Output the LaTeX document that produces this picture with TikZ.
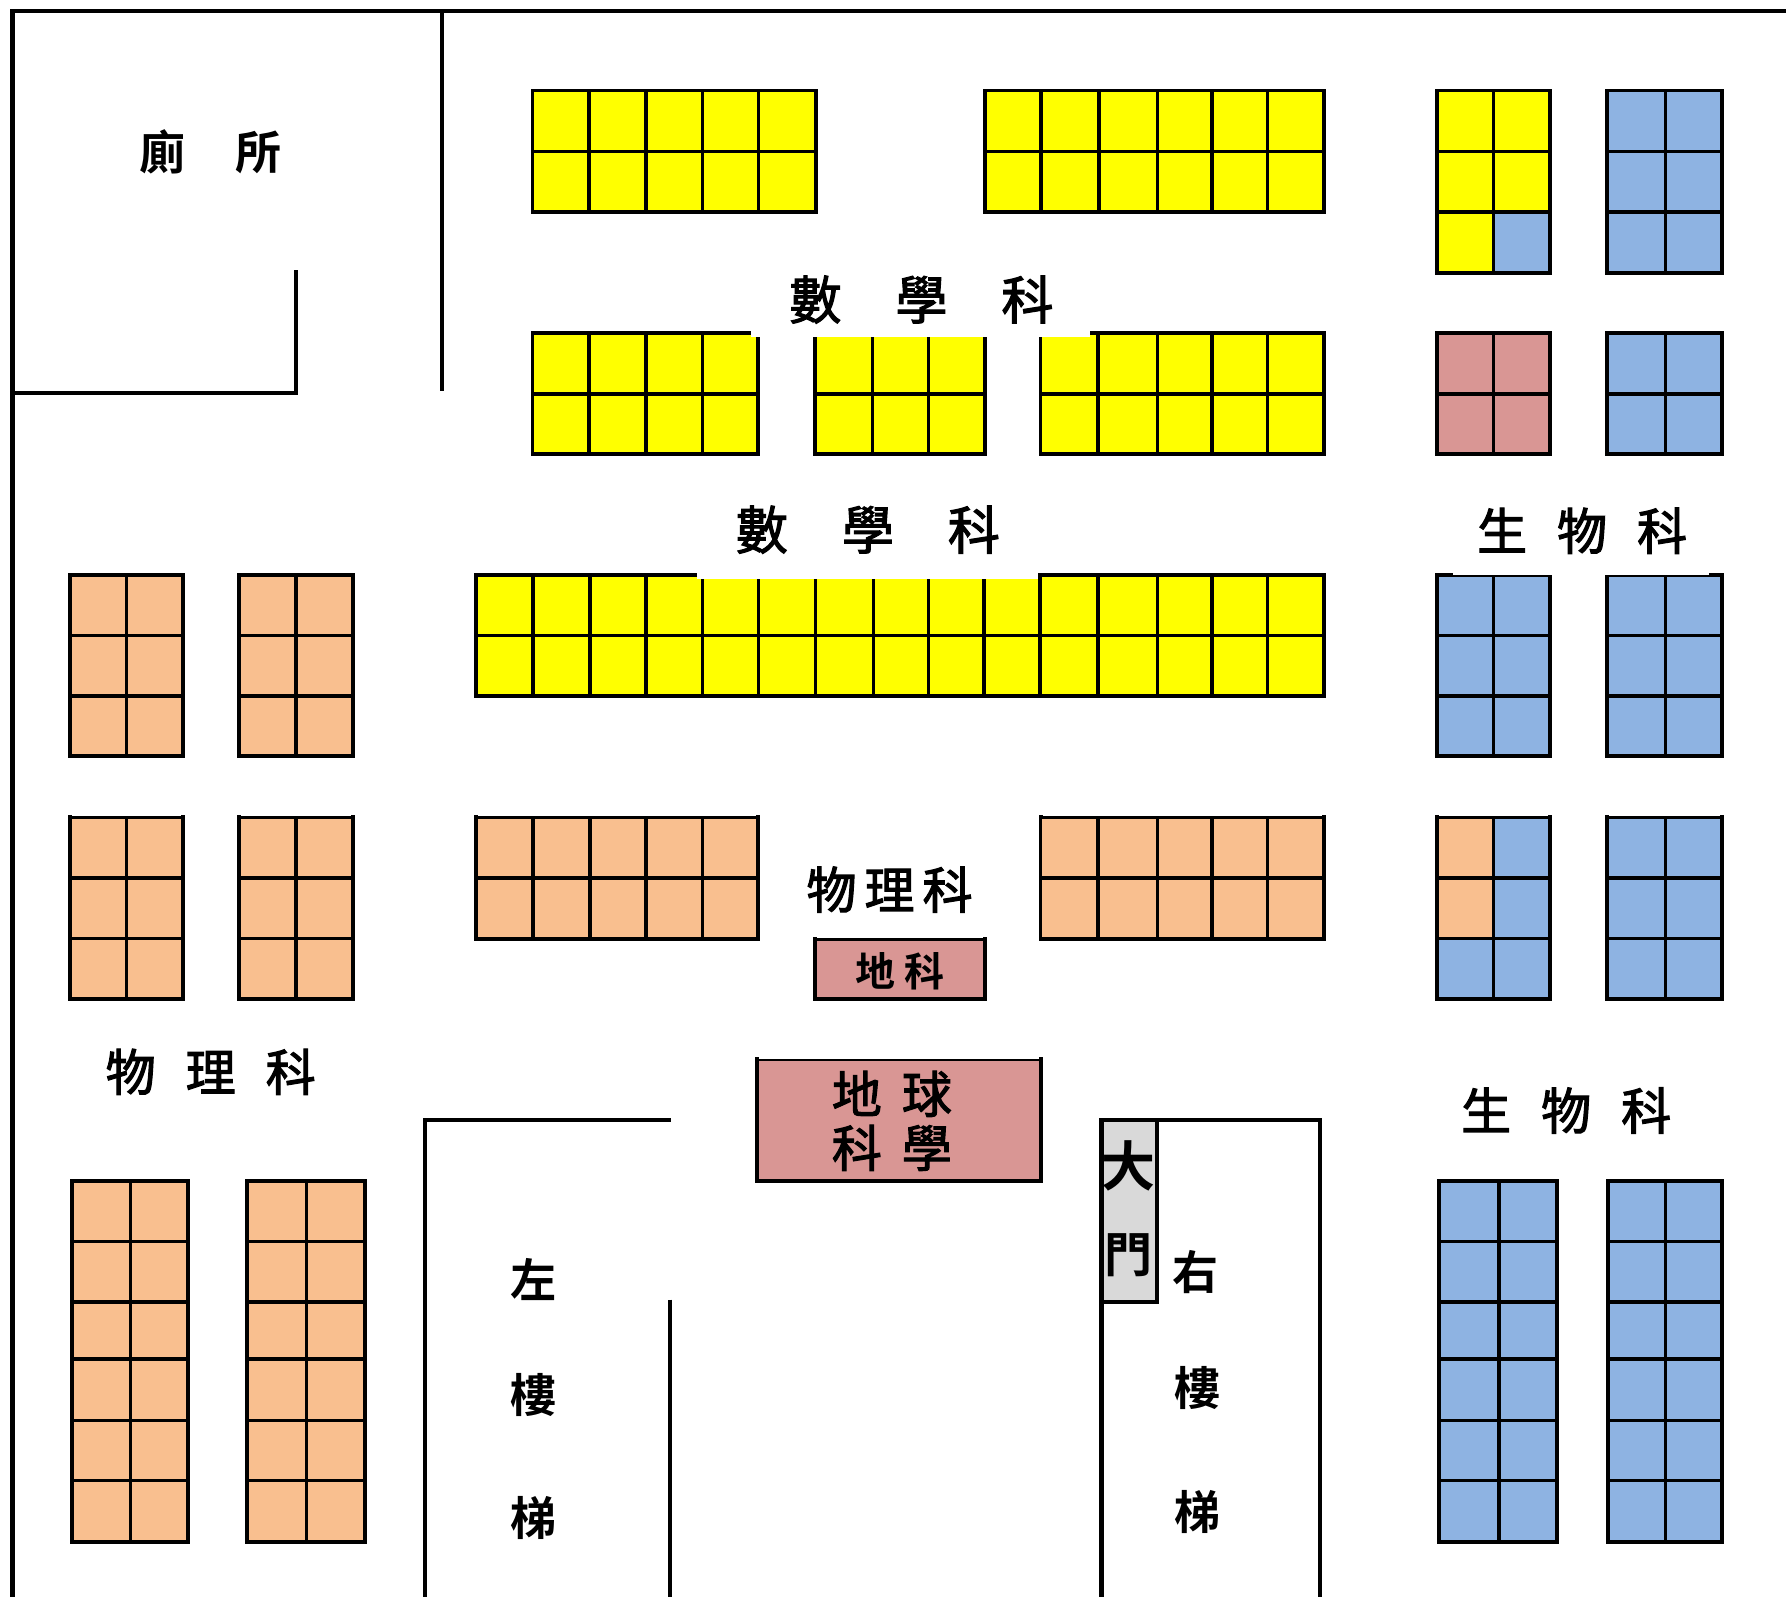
\documentclass[tikz,border=0pt]{standalone}
\usepackage{fontspec}
\usepackage{xcolor}
\setmainfont{Noto Sans CJK TC}
\newfontfamily\subjectfont[FakeBold=2.2]{Noto Sans CJK TC}
\newfontfamily\brushfont{Noto Sans CJK TC Bold}
\usetikzlibrary{positioning}
\definecolor{mathfill}{HTML}{FFFF00}
\definecolor{physfill}{HTML}{F9BF8F}
\definecolor{biofill}{HTML}{8EB3E2}
\definecolor{earthfill}{HTML}{D99694}
\definecolor{gatefill}{HTML}{D9D9D9}
\newcommand{\deskblock}[7]{%
  \draw[desk, fill=#5] (#1,#2) rectangle (#3,#4);
  \foreach \cx in {#6} \draw[deskline] (\cx,#2) -- (\cx,#4);
  \foreach \cy in {#7} \draw[deskline] (#1,\cy) -- (#3,\cy);
}
\begin{document}
\begin{tikzpicture}[
  x=1.13903pt, y=-1.13903pt,
  wall/.style={draw=black, line width=4.2pt},
  desk/.style={draw=black, line width=3.9pt},
  deskline/.style={draw=black, line width=3.4pt},
  subject/.style={inner sep=0pt, font=\subjectfont\fontsize{52}{54}\selectfont, align=center},
  brush/.style={inner sep=0pt, font=\brushfont\fontsize{46}{48}\selectfont}
]
  \useasboundingbox (0,0) rectangle (1568,1402);

  % walls
  \draw[wall] (11,1402) -- (11,10) -- (1568,10);
  \draw[wall] (388,10) -- (388,343);
  \draw[wall] (11,345) -- (260,345) -- (260,237);
  \draw[wall] (373,1402) -- (373,983) -- (589,983);
  \draw[wall] (588,1141) -- (588,1402);
  \draw[wall] (967,1402) -- (967,983) -- (1159,983) -- (1159,1402);

  % maths
  \deskblock{467.5}{79.5}{716}{186}{mathfill}{517,567,617,666}{133}
  \deskblock{864.5}{79.5}{1162.5}{186}{mathfill}{914,965,1016,1064,1113}{133}
  \deskblock{467.5}{292.5}{665.5}{398.5}{mathfill}{517,567,617}{346}
  \deskblock{715.5}{292.5}{865}{398.5}{mathfill}{766,815}{346}
  \deskblock{913.5}{292.5}{1162.5}{398.5}{mathfill}{964,1016,1064,1113}{346}
  \deskblock{417.5}{504.5}{1162.5}{611}{mathfill}{468,518,567,617,666,716,767,815,864,913,964,1016,1064,1113}{558}

  % maths and biology, shared
  \fill[mathfill] (1261.5,79.5) rectangle (1361,240);
  \fill[biofill] (1311,186) rectangle (1361,240);
  \deskblock{1261.5}{79.5}{1361}{240}{none}{1311}{133,186}
  \deskblock{1411}{79.5}{1512}{240}{biofill}{1462}{133,186}
  \deskblock{1261.5}{292.5}{1361}{398.5}{earthfill}{1311}{346}
  \deskblock{1411}{292.5}{1512}{398.5}{biofill}{1462}{346}

  % physics
  \deskblock{61.5}{504.5}{161}{664}{physfill}{111}{558,611}
  \deskblock{209.5}{504.5}{310}{664}{physfill}{260}{558,611}
  \deskblock{61.5}{717}{161}{877}{physfill}{111}{771,824}
  \deskblock{209.5}{717}{310}{877}{physfill}{260}{771,824}
  \deskblock{417.5}{717}{665.5}{824}{physfill}{468,518,567,617}{771}
  \deskblock{913.5}{717}{1162.5}{824}{physfill}{964,1016,1064,1113}{771}
  \deskblock{63}{1037}{165}{1354}{physfill}{114.5}{1090,1143,1193,1247,1300}
  \deskblock{217}{1037}{320.5}{1354}{physfill}{269}{1090,1143,1193,1247,1300}

  % biology
  \deskblock{1261.5}{504.5}{1361}{664}{biofill}{1311}{558,611}
  \deskblock{1411}{504.5}{1512}{664}{biofill}{1462}{558,611}
  \fill[biofill] (1261.5,717) rectangle (1361,877);
  \fill[physfill] (1261.5,717) rectangle (1311,824);
  \deskblock{1261.5}{717}{1361}{877}{none}{1311}{771,824}
  \deskblock{1411}{717}{1512}{877}{biofill}{1462}{771,824}
  \deskblock{1263.5}{1037}{1367}{1354}{biofill}{1316}{1090,1143,1193,1247,1300}
  \deskblock{1411.5}{1037}{1512}{1354}{biofill}{1462}{1090,1143,1193,1247,1300}

  % earth science
  \draw[desk, fill=earthfill] (715.5,824) rectangle (865,877);
  \draw[desk, fill=earthfill] (664.5,930) rectangle (914,1037);
  \draw[wall, fill=gatefill] (967,983) rectangle (1016,1143);

  % white patches from the labels
  \fill[white] (659,230) rectangle (957,296);
  \fill[white] (612,440) rectangle (911,508);
  \fill[white] (1276,490) rectangle (1500,504.4);
  \foreach \xa/\xb in {63.5/159, 211.5/308, 419.5/663.5, 915.5/1160.5, 1263.5/1359, 1413/1510}
    \fill[white] (\xa,710) rectangle (\xb,716.4);
  \fill[white] (717.5,818) rectangle (863,823.4);
  \fill[white] (666.5,924) rectangle (912,929.4);

  % labels
  \node[subject] (math top) at (809,263) {數\hspace{54pt}學\hspace{54pt}科};
  \node[subject] (math mid) at (762,465) {數\hspace{54pt}學\hspace{54pt}科};
  \node[subject, font=\subjectfont\fontsize{50}{52}\selectfont] (bio top) at (1389,466) {生\hspace{30pt}物\hspace{30pt}科};
  \node[subject, font=\subjectfont\fontsize{50}{52}\selectfont] (bio low) at (1375,975) {生\hspace{30pt}物\hspace{30pt}科};
  \node[subject, font=\subjectfont\fontsize{50}{52}\selectfont] (phys left) at (185,941) {物\hspace{30pt}理\hspace{30pt}科};
  \node[subject, font=\subjectfont\fontsize{50}{52}\selectfont] (phys mid) at (781,781) {物\hspace{8pt}理\hspace{8pt}科};
  \node[subject, font=\subjectfont\fontsize{50}{54}\selectfont] (earth big) at (783,984) {地\hspace{20pt}球\\科\hspace{20pt}學};
  \node[brush, font=\brushfont\fontsize{40}{42}\selectfont] (earth small) at (790,853) {地\hspace{9pt}科};
  \node[brush] (toilet) at (185,133) {廁\hspace{50pt}所};
  \node[brush] (left a) at (468,1123) {左};
  \node[brush] (left b) at (468,1225) {樓};
  \node[brush] (left c) at (468,1333) {梯};
  \node[brush] (right a) at (1050,1117) {右};
  \node[brush] (right b) at (1051,1219) {樓};
  \node[brush] (right c) at (1051,1327) {梯};
  \node[brush, font=\brushfont\fontsize{54}{56}\selectfont] (gate a) at (991,1024) {大};
  \node[brush, font=\brushfont\fontsize{48}{50}\selectfont] (gate b) at (991,1102) {門};
\end{tikzpicture}
\end{document}
